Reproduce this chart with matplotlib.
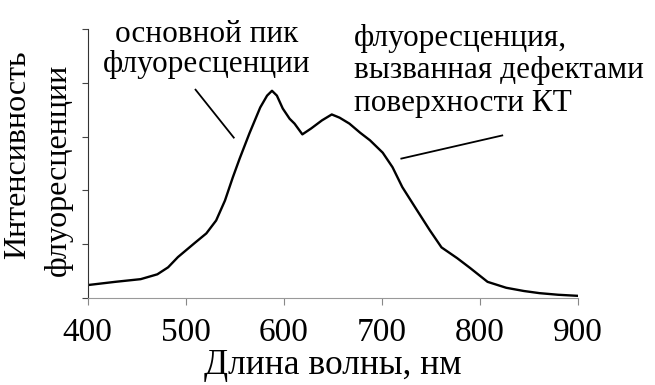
import matplotlib
matplotlib.use('Agg')
import matplotlib.pyplot as plt

plt.rcParams['font.family'] = ['Liberation Serif', 'DejaVu Serif']

# spectrum (intensity in tick units, 0..5)
wavelength = [400, 428, 454, 471, 482, 492, 509, 521, 531, 540, 548, 555, 565,
              576, 583, 588, 593, 599, 606, 611, 619, 628, 639, 649, 657, 667,
              678, 688, 701, 711, 721, 736, 749, 761, 777, 790, 808, 827, 845,
              861, 880, 900]
intensity = [0.24, 0.30, 0.35, 0.44, 0.57, 0.76, 1.02, 1.20, 1.44, 1.81, 2.24,
             2.59, 3.06, 3.54, 3.76, 3.85, 3.76, 3.52, 3.33, 3.24, 3.04, 3.15,
             3.30, 3.41, 3.35, 3.24, 3.07, 2.93, 2.70, 2.43, 2.06, 1.63, 1.26,
             0.94, 0.74, 0.56, 0.30, 0.19, 0.13, 0.09, 0.06, 0.04]

xticks = [400, 500, 600, 700, 800, 900]
yticks = [0, 1, 2, 3, 4, 5]

label_main = 'основной пик\nфлуоресценции'
label_defect = 'флуоресценция,\nвызванная дефектами\nповерхности КТ'

fig = plt.figure(figsize=(6.55, 3.85), dpi=100)
ax = fig.add_axes([0.134, 0.226, 0.748, 0.699])

ax.plot(wavelength, intensity, color='black', lw=1.7, solid_joinstyle='round')

ax.set_xlim(400, 900)
ax.set_ylim(0, 5)
ax.set_xticks(xticks)
ax.set_yticks(yticks)
ax.set_yticklabels([])
ax.tick_params(axis='x', labelsize=24, length=5, color='#888888', pad=9)
ax.tick_params(axis='y', length=4, color='#444444')

for s in ['top', 'right']:
    ax.spines[s].set_visible(False)
ax.spines['left'].set_color('#333333')
ax.spines['bottom'].set_color('#999999')

ax.set_xlabel('Длина волны, нм', fontsize=25.5, labelpad=1)

# two-line y label
ax.text(-0.143, 0.532, 'Интенсивность', transform=ax.transAxes, rotation=90,
        ha='center', va='center', fontsize=23)
ax.text(-0.061, 0.476, 'флуоресценции', transform=ax.transAxes, rotation=90,
        ha='center', va='center', fontsize=23)

# annotations
ax.text(521, 4.62, label_main, ha='center', va='center', fontsize=22.5,
        linespacing=1.07)
ax.plot([510, 549], [3.87, 2.98], color='black', lw=1.3, clip_on=False)

ax.text(672, 4.22, label_defect, ha='left', va='center', fontsize=22.5,
        linespacing=1.15)
ax.plot([720, 823], [2.59, 3.02], color='black', lw=1.3, clip_on=False)

fig.savefig('out.png', dpi=100)
